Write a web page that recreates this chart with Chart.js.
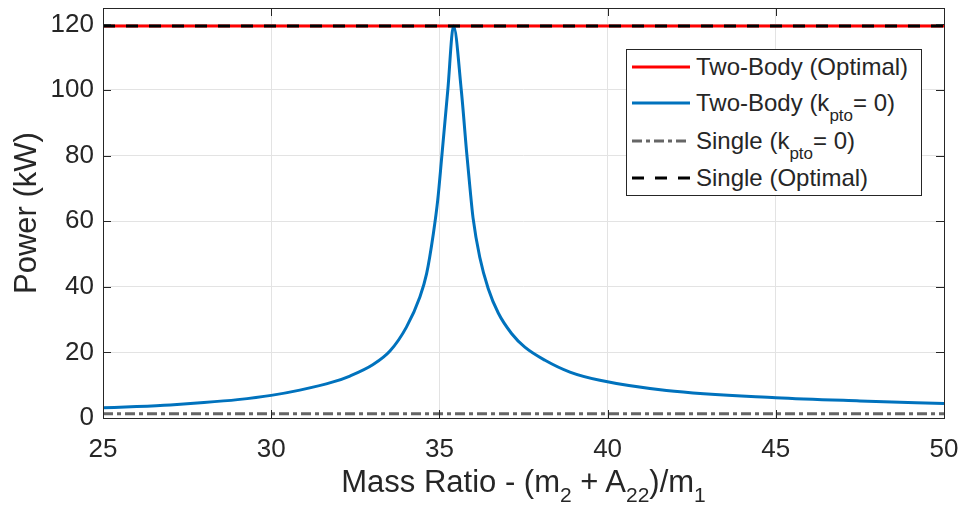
<!DOCTYPE html>
<html>
<head>
<meta charset="utf-8">
<script src="https://cdn.jsdelivr.net/npm/chart.js@4"></script>
<style>
  body { margin: 0; background: #fff; }
  #wrap { position: relative; width: 961px; height: 509px; font-family: "Liberation Sans", Arial, Helvetica, sans-serif; color: #262626; }
  #xtitle { position: absolute; left: 103px; width: 841px; top: 466px; text-align: center; font-size: 31px; line-height: 31px; white-space: nowrap; }
  #xtitle sub { font-size: 21px; line-height: 0; vertical-align: -10px; }
  #legend { position: absolute; left: 626px; top: 49px; width: 294px; height: 145px; border: 1px solid #262626; background: #fff; }
  .row { position: absolute; left: 0; height: 36px; display: flex; align-items: center; font-size: 24px; line-height: 24px; white-space: nowrap; }
  .row svg { margin-left: 5px; margin-right: 6px; }
  .row sub { font-size: 17px; line-height: 0; vertical-align: -10px; }
</style>
</head>
<body>
<div id="wrap">
  <canvas id="myChart" width="961" height="509"></canvas>
  <div id="xtitle">Mass Ratio - (m<sub>2</sub> + A<sub>22</sub>)/m<sub>1</sub></div>
  <div id="legend">
    <div class="row" style="top:-1px"><svg width="58" height="6"><line x1="0" y1="3" x2="58" y2="3" stroke="#ff0000" stroke-width="3"/></svg><span>Two-Body (Optimal)</span></div>
    <div class="row" style="top:35px"><svg width="58" height="6"><line x1="0" y1="3" x2="58" y2="3" stroke="#0072bd" stroke-width="3"/></svg><span>Two-Body (k<sub>pto</sub>= 0)</span></div>
    <div class="row" style="top:73px"><svg width="58" height="6"><line x1="0" y1="3" x2="58" y2="3" stroke="#666666" stroke-width="3" stroke-dasharray="10 4 4 4"/></svg><span>Single (k<sub>pto</sub>= 0)</span></div>
    <div class="row" style="top:110px"><svg width="58" height="6"><line x1="0" y1="3" x2="58" y2="3" stroke="#000000" stroke-width="3" stroke-dasharray="12 11"/></svg><span>Single (Optimal)</span></div>
  </div>
</div>
<script>
// mass ratio samples for the two-body (kpto = 0) curve
let massRatio = [25, 26, 27, 28, 29, 30, 30.85, 31.84, 32.34, 33.03, 33.53, 34.02, 34.42, 34.62, 34.82, 34.95, 35.07, 35.25, 35.42,
  35.65, 35.81, 35.91, 36.0, 36.2, 36.45, 36.75, 37.15, 37.54, 38.14, 38.88, 39.77, 41.75, 45, 47.5, 50];
let twoBodyK0 = [3.1, 3.5, 4.0, 4.7, 5.6, 6.9, 8.5, 11.0, 12.8, 16.3, 20.4, 27.7, 36.9, 44.0, 56.2, 66.4, 79.6, 100, 119.5,
  100, 81, 70, 61, 49, 39.5, 32, 25.7, 21.6, 17.6, 14.0, 11.5, 8.4, 6.2, 5.2, 4.4];
// flat lines, given at both ends of the x range
let xRange = [25, 50];
let twoBodyOptimal = [119.5, 119.5];
let singleK0 = [1.3, 1.3];
let singleOptimal = [119.5, 119.5];

let xTicks = [25, 30, 35, 40, 45, 50];
let yTicks = [0, 20, 40, 60, 80, 100, 120];

let ctx = document.getElementById("myChart");
let pairs = (xs, ys) => xs.map((x, i) => ({x: x, y: ys[i]}));

// box around the plot with small inward ticks, like matlab
let boxPlugin = {
  id: 'box',
  afterDraw(chart) {
    let c = chart.ctx, a = chart.chartArea;
    let sx = chart.scales.x, sy = chart.scales.y;
    c.save();
    c.strokeStyle = '#262626';
    c.lineWidth = 1;
    c.beginPath();
    sx.ticks.forEach(t => {
      let px = Math.round(sx.getPixelForValue(t.value)) + 0.5;
      c.moveTo(px, a.bottom); c.lineTo(px, a.bottom - 8);
      c.moveTo(px, a.top); c.lineTo(px, a.top + 8);
    });
    sy.ticks.forEach(t => {
      let py = Math.round(sy.getPixelForValue(t.value)) + 0.5;
      c.moveTo(a.left, py); c.lineTo(a.left + 8, py);
      c.moveTo(a.right, py); c.lineTo(a.right - 8, py);
    });
    c.stroke();
    c.strokeRect(Math.round(a.left) + 0.5, Math.round(a.top) + 0.5, Math.round(a.right - a.left), Math.round(a.bottom - a.top));
    c.restore();
  }
};

let font = {family: '"Liberation Sans", Arial, Helvetica, sans-serif', size: 26};

let myChart = new Chart(ctx, {
  type: 'line',
  data: {
    datasets: [
      {
        label: 'Two-Body (Optimal)',
        data: pairs(xRange, twoBodyOptimal),
        borderColor: '#ff0000',
        borderWidth: 3,
        pointRadius: 0,
        order: 4
      },
      {
        label: 'Two-Body (kpto = 0)',
        data: pairs(massRatio, twoBodyK0),
        borderColor: '#0072bd',
        borderWidth: 3,
        pointRadius: 0,
        cubicInterpolationMode: 'monotone',
        order: 3
      },
      {
        label: 'Single (kpto = 0)',
        data: pairs(xRange, singleK0),
        borderColor: '#666666',
        borderWidth: 3,
        borderDash: [10, 4, 4, 4],
        pointRadius: 0,
        order: 2
      },
      {
        label: 'Single (Optimal)',
        data: pairs(xRange, singleOptimal),
        borderColor: '#000000',
        borderWidth: 3,
        borderDash: [12, 11],
        pointRadius: 0,
        order: 1
      }
    ]
  },
  options: {
    responsive: false,
    animation: false,
    layout: {padding: {top: 8, right: 17, left: 0, bottom: 0}},
    plugins: {legend: {display: false}, tooltip: {enabled: false}},
    scales: {
      x: {
        type: 'linear',
        min: 25,
        max: 50,
        afterBuildTicks: s => { s.ticks = xTicks.map(v => ({value: v})); },
        afterFit: s => { s.height = 91; s.paddingLeft = 0; s.paddingRight = 0; },
        ticks: {color: '#262626', font: font, padding: 16, maxRotation: 0},
        grid: {color: '#e3e3e3', drawTicks: false},
        border: {display: false}
      },
      y: {
        min: 0,
        max: 125,
        afterBuildTicks: s => { s.ticks = yTicks.map(v => ({value: v})); },
        afterFit: s => { s.width = 103; s.paddingTop = 0; s.paddingBottom = 0; },
        ticks: {color: '#262626', font: font, padding: 9},
        grid: {color: '#e3e3e3', drawTicks: false},
        border: {display: false},
        title: {display: true, text: 'Power (kW)', color: '#262626', font: {family: font.family, size: 31}, padding: {top: 9, bottom: 0}}
      }
    }
  },
  plugins: [boxPlugin]
});
</script>
</body>
</html>
